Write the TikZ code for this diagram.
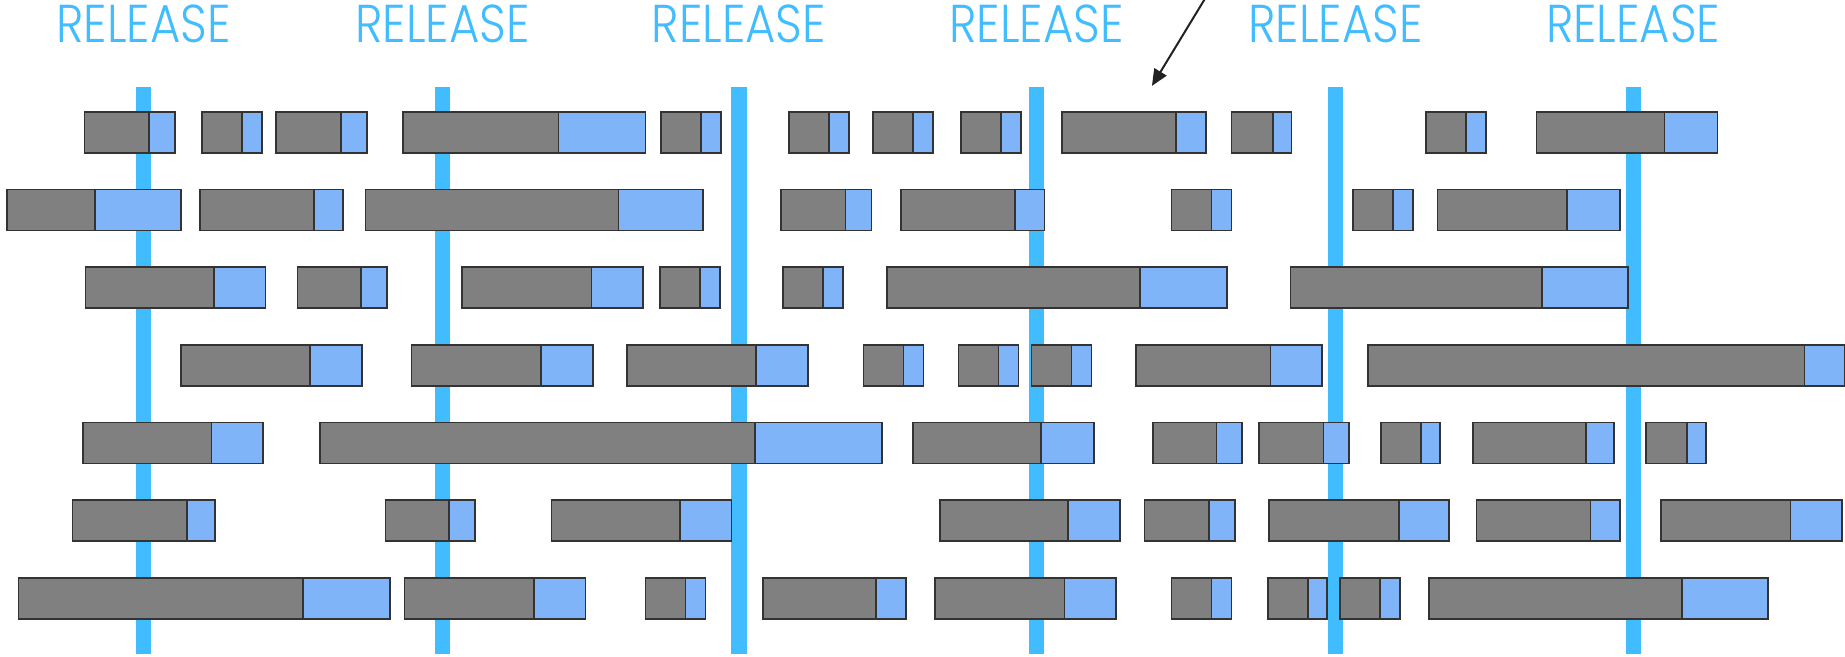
\documentclass[tikz,border=0pt]{standalone}
\usepackage{fontspec}
\usepackage{graphicx}
\usetikzlibrary{arrows.meta}
\newfontfamily\relfont{Poppins Light}
\definecolor{relblue}{HTML}{41BDFF}
\definecolor{boxblue}{HTML}{80B4F8}
\definecolor{boxgray}{HTML}{808080}
\definecolor{boxline}{HTML}{333333}
\definecolor{arrcol}{HTML}{222222}
\tikzset{
  gbox/.style={draw=boxline, fill=boxgray, line width=1.4pt, inner sep=0pt, minimum height=35pt},
  bbox/.style={draw=boxline, fill=boxblue, line width=1.4pt, inner sep=0pt, minimum height=35pt},
  relline/.style={draw=relblue, line width=13pt},
  rellabel/.style={text=relblue, inner sep=0pt, font=\relfont},
  arr/.style={draw=arrcol, line width=1.7pt, -{Triangle[length=14pt,width=12pt]}}
}
% name, row, x1, x2, x3
\newcommand\tkbar[5]{%
  \pgfmathsetmacro\wa{#4-#3}%
  \pgfmathsetmacro\wb{#5-#4}%
  \pgfmathsetmacro\yc{95+17.5+66*(#2-1)}%
  \node[gbox, minimum width=\wa pt, anchor=west] (#1g) at (#3,\yc) {};
  \node[bbox, minimum width=\wb pt, anchor=west] (#1b) at (#4,\yc) {};
}
\begin{document}
\begin{tikzpicture}[x=1pt,y=-1pt]
\useasboundingbox (0,0) rectangle (1568,558);
% release lines and labels
\foreach \i/\x in {1/122,2/376,3/628,4/881,5/1135,6/1388}{
  \node[rellabel] (rel\i) at (\x,20.3) {\resizebox{148pt}{32pt}{RELEASE}};
  \coordinate (lt\i) at (\x,74);
  \coordinate (lb\i) at (\x,556);
  \draw[relline] (lt\i) -- (lb\i);
}
% row 1
\tkbar{a1}{1}{71}{126}{148}
\tkbar{a2}{1}{171}{205}{222}
\tkbar{a3}{1}{234}{289}{311}
\tkbar{a4}{1}{342}{474}{548}
\tkbar{a5}{1}{561}{595}{612}
\tkbar{a6}{1}{670}{704}{721}
\tkbar{a7}{1}{741}{775}{792}
\tkbar{a8}{1}{816}{850}{867}
\tkbar{a9}{1}{902}{999}{1024}
\tkbar{a10}{1}{1046}{1081}{1097}
\tkbar{a11}{1}{1211}{1245}{1262}
\tkbar{a12}{1}{1305}{1414}{1459}
% row 2
\tkbar{b1}{2}{5}{80}{153}
\tkbar{b2}{2}{169}{266}{291}
\tkbar{b3}{2}{310}{525}{597}
\tkbar{b4}{2}{663}{718}{740}
\tkbar{b5}{2}{765}{862}{887}
\tkbar{b6}{2}{995}{1029}{1046}
\tkbar{b7}{2}{1149}{1183}{1200}
\tkbar{b8}{2}{1221}{1331}{1376}
% row 3
\tkbar{c1}{3}{72}{181}{225}
\tkbar{c2}{3}{252}{306}{328}
\tkbar{c3}{3}{392}{502}{546}
\tkbar{c4}{3}{560}{594}{611}
\tkbar{c5}{3}{665}{699}{716}
\tkbar{c6}{3}{753}{968}{1042}
\tkbar{c7}{3}{1096}{1310}{1383}
% row 4
\tkbar{d1}{4}{153}{263}{307}
\tkbar{d2}{4}{349}{459}{503}
\tkbar{d3}{4}{532}{642}{686}
\tkbar{d4}{4}{733}{767}{784}
\tkbar{d5}{4}{814}{848}{865}
\tkbar{d6}{4}{876}{910}{927}
\tkbar{d7}{4}{965}{1079}{1123}
\tkbar{d8}{4}{1162}{1533}{1567}
% row 5
\tkbar{e1}{5}{70}{179}{223}
\tkbar{e2}{5}{271}{641}{749}
\tkbar{e3}{5}{775}{884}{929}
\tkbar{e4}{5}{979}{1033}{1055}
\tkbar{e5}{5}{1069}{1124}{1146}
\tkbar{e6}{5}{1173}{1207}{1223}
\tkbar{e7}{5}{1251}{1347}{1371}
\tkbar{e8}{5}{1398}{1433}{1449}
% row 6
\tkbar{f1}{6}{61}{158}{182}
\tkbar{f2}{6}{327}{381}{403}
\tkbar{f3}{6}{468}{577}{621}
\tkbar{f4}{6}{798}{907}{951}
\tkbar{f5}{6}{972}{1027}{1049}
\tkbar{f6}{6}{1078}{1188}{1231}
\tkbar{f7}{6}{1254}{1351}{1376}
\tkbar{f8}{6}{1411}{1521}{1565}
% row 7
\tkbar{g1}{7}{15}{257}{331}
\tkbar{g2}{7}{343}{453}{497}
\tkbar{g3}{7}{548}{582}{599}
\tkbar{g4}{7}{648}{744}{769}
\tkbar{g5}{7}{794}{904}{948}
\tkbar{g6}{7}{995}{1029}{1046}
\tkbar{g7}{7}{1077}{1111}{1127}
\tkbar{g8}{7}{1138}{1172}{1189}
\tkbar{g9}{7}{1214}{1429}{1502}
% arrow
\coordinate (atail) at (1024,-1);
\coordinate (ahead) at (979,73);
\draw[arr] (atail) -- (ahead);
\end{tikzpicture}
\end{document}
